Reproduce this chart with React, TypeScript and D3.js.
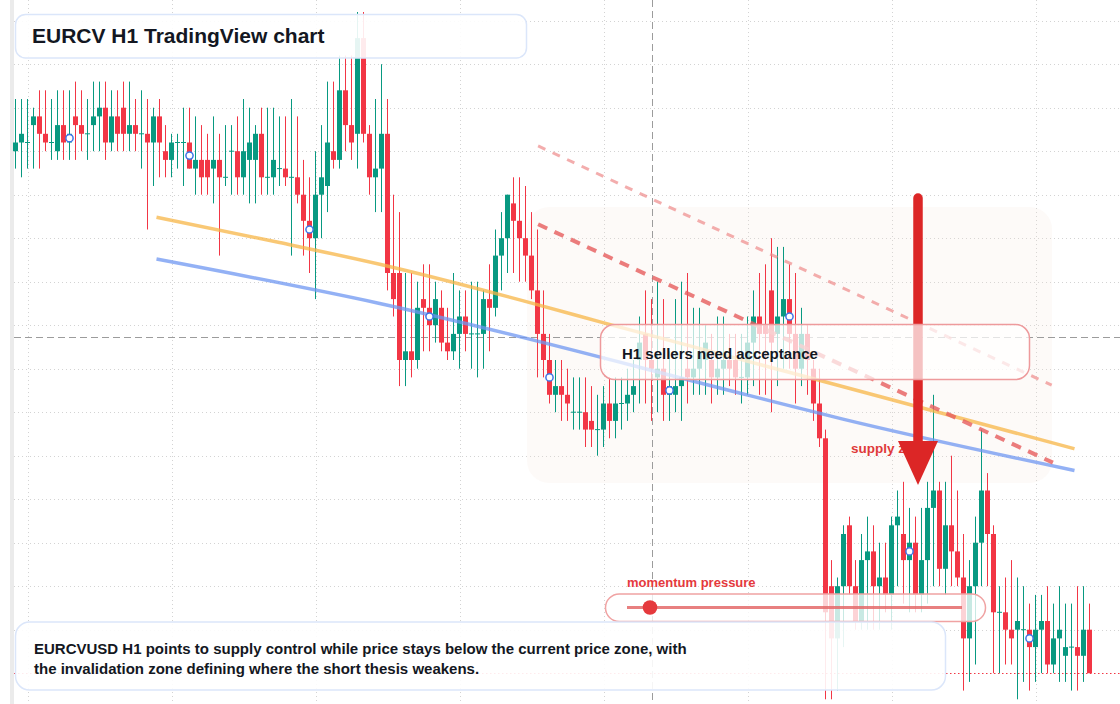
import React, { useEffect, useRef } from 'react';
import * as d3 from 'd3';

// EURCV H1 candles
const opens = [
    1.0885, 1.0886, 1.0886, 1.0888, 1.0889, 1.0887, 1.0886, 1.0885, 1.0888, 1.0886,
    1.0889, 1.0888, 1.0887, 1.0888, 1.0889, 1.089, 1.0886, 1.0889, 1.089, 1.0887,
    1.0888, 1.0887, 1.0887, 1.0886, 1.0889, 1.0885, 1.0884, 1.0886, 1.0886, 1.0886,
    1.0883, 1.0884, 1.0884, 1.0883, 1.0884, 1.0882, 1.0885, 1.0885, 1.0882, 1.0884,
    1.0884, 1.0887, 1.0882, 1.0882, 1.0883, 1.0883, 1.0882, 1.0882, 1.088, 1.0877,
    1.0875, 1.088, 1.0881, 1.0885, 1.0884, 1.0892, 1.0888, 1.0887, 1.0898, 1.0887,
    1.0882, 1.0883, 1.0887, 1.0871, 1.0871, 1.0861, 1.0862, 1.0861, 1.0868, 1.0867,
    1.0865, 1.0867, 1.0863, 1.0862, 1.0864, 1.0866, 1.0864, 1.0864, 1.0864, 1.0868,
    1.0867, 1.0873, 1.0875, 1.0879, 1.0877, 1.0875, 1.0873, 1.0869, 1.0864, 1.0861,
    1.0857, 1.0858, 1.0857, 1.0855, 1.0855, 1.0855, 1.0854, 1.0853, 1.0853, 1.0856,
    1.0854, 1.0856, 1.0856, 1.0857, 1.0861, 1.0864, 1.0861, 1.0859, 1.086, 1.0857,
    1.0857, 1.0858, 1.086, 1.0859, 1.086, 1.0861, 1.0861, 1.0859, 1.086, 1.0861,
    1.0861, 1.0859, 1.0859, 1.0863, 1.0866, 1.0865, 1.0869, 1.0864, 1.0866, 1.0868,
    1.0864, 1.086, 1.0864, 1.086, 1.0856, 1.0852, 1.0835, 1.0829, 1.0835, 1.0842,
    1.0835, 1.0831, 1.0838, 1.0839, 1.0835, 1.0836, 1.0834, 1.0842, 1.0841, 1.0838,
    1.084, 1.0834, 1.0838, 1.0844, 1.0846, 1.0837, 1.0842, 1.0839, 1.0836, 1.0829,
    1.0835, 1.084, 1.0846, 1.0841, 1.0832, 1.0832, 1.083, 1.083, 1.083, 1.083,
    1.0828, 1.083, 1.0831, 1.0826, 1.0829, 1.0827, 1.0828, 1.0828, 1.0827, 1.083,
];
const highs = [
    1.0891, 1.0891, 1.0891, 1.089, 1.0892, 1.0892, 1.0891, 1.0892, 1.0892, 1.0892,
    1.0893, 1.0892, 1.0891, 1.0893, 1.0893, 1.0893, 1.0892, 1.0892, 1.0893, 1.0893,
    1.0891, 1.0892, 1.0891, 1.089, 1.0891, 1.0888, 1.0887, 1.0887, 1.089, 1.089,
    1.0889, 1.0888, 1.0887, 1.0889, 1.0887, 1.0888, 1.0888, 1.0889, 1.0891, 1.089,
    1.0888, 1.089, 1.089, 1.089, 1.0889, 1.0889, 1.0891, 1.0889, 1.0884, 1.0882,
    1.0885, 1.0888, 1.0893, 1.0893, 1.0896, 1.0896, 1.0896, 1.0901, 1.0901, 1.0888,
    1.0891, 1.0895, 1.0891, 1.088, 1.0878, 1.0871, 1.0871, 1.087, 1.0872, 1.0872,
    1.087, 1.0869, 1.0867, 1.0871, 1.0869, 1.0869, 1.087, 1.087, 1.0869, 1.0872,
    1.0876, 1.0878, 1.088, 1.0882, 1.0882, 1.0881, 1.0878, 1.0876, 1.0869, 1.0864,
    1.0861, 1.0861, 1.086, 1.0859, 1.0859, 1.0859, 1.0858, 1.0857, 1.0858, 1.0859,
    1.0859, 1.0859, 1.086, 1.0861, 1.0866, 1.0869, 1.0868, 1.087, 1.0868, 1.0862,
    1.0868, 1.087, 1.0871, 1.0867, 1.0867, 1.0865, 1.0864, 1.0866, 1.0866, 1.0864,
    1.0864, 1.0864, 1.0866, 1.0869, 1.0871, 1.0872, 1.0875, 1.0874, 1.0874, 1.0872,
    1.0871, 1.0867, 1.0865, 1.0861, 1.086, 1.0853, 1.0838, 1.0836, 1.0842, 1.0843,
    1.0838, 1.0841, 1.0843, 1.0842, 1.084, 1.084, 1.0843, 1.0846, 1.0847, 1.0844,
    1.0843, 1.0844, 1.0847, 1.0857, 1.0847, 1.0847, 1.085, 1.0846, 1.0841, 1.0838,
    1.0843, 1.0853, 1.0848, 1.0842, 1.0835, 1.0836, 1.0838, 1.0836, 1.0835, 1.0833,
    1.0834, 1.0834, 1.0835, 1.0833, 1.0835, 1.0833, 1.0833, 1.0835, 1.0835, 1.0833,
];
const lows = [
    1.0883, 1.0882, 1.0883, 1.0883, 1.0883, 1.0885, 1.0884, 1.0884, 1.0884, 1.0884,
    1.0884, 1.0885, 1.0884, 1.0885, 1.0885, 1.0884, 1.0885, 1.0885, 1.0885, 1.0885,
    1.0885, 1.0883, 1.0876, 1.0881, 1.0882, 1.0882, 1.0882, 1.0883, 1.0881, 1.0883,
    1.088, 1.088, 1.088, 1.0879, 1.0873, 1.0881, 1.088, 1.088, 1.088, 1.0879,
    1.0879, 1.088, 1.088, 1.088, 1.0881, 1.0881, 1.0873, 1.0879, 1.0873, 1.0871,
    1.0868, 1.0875, 1.0878, 1.0883, 1.0883, 1.0885, 1.0884, 1.0883, 1.0886, 1.088,
    1.0878, 1.0878, 1.0869, 1.0866, 1.0858, 1.0858, 1.0859, 1.086, 1.0862, 1.0862,
    1.0863, 1.0862, 1.0861, 1.0861, 1.086, 1.0862, 1.086, 1.0859, 1.086, 1.0862,
    1.0866, 1.0869, 1.0871, 1.0871, 1.087, 1.087, 1.0868, 1.0859, 1.0859, 1.0856,
    1.0855, 1.0854, 1.0854, 1.0853, 1.0853, 1.0851, 1.0851, 1.085, 1.0851, 1.0852,
    1.0852, 1.0853, 1.0854, 1.0855, 1.0856, 1.0856, 1.0854, 1.0855, 1.0854, 1.0854,
    1.0855, 1.0854, 1.0856, 1.0857, 1.0857, 1.0857, 1.0856, 1.0857, 1.0857, 1.0858,
    1.0857, 1.0856, 1.0857, 1.0858, 1.0857, 1.0857, 1.0855, 1.0858, 1.086, 1.086,
    1.0856, 1.0858, 1.0857, 1.0854, 1.0851, 1.0822, 1.0822, 1.0823, 1.0828, 1.0834,
    1.083, 1.083, 1.083, 1.083, 1.083, 1.0832, 1.083, 1.0835, 1.0833, 1.0832,
    1.0832, 1.0832, 1.0833, 1.0835, 1.0835, 1.0834, 1.0835, 1.0835, 1.0823, 1.0824,
    1.0826, 1.0835, 1.0835, 1.0825, 1.0825, 1.0826, 1.0826, 1.0822, 1.0824, 1.0823,
    1.0824, 1.0825, 1.0825, 1.0825, 1.0824, 1.0824, 1.0823, 1.0823, 1.0824, 1.0825,
];
const closes = [
    1.0886, 1.0887, 1.0886, 1.0889, 1.0887, 1.0886, 1.0886, 1.0888, 1.0886, 1.0887,
    1.0888, 1.0887, 1.0887, 1.0889, 1.089, 1.0886, 1.0889, 1.0887, 1.0887, 1.0888,
    1.0887, 1.0887, 1.0886, 1.0889, 1.0886, 1.0884, 1.0886, 1.0886, 1.0886, 1.0883,
    1.0884, 1.0882, 1.0882, 1.0884, 1.0882, 1.0882, 1.0885, 1.0882, 1.0885, 1.0886,
    1.0887, 1.0882, 1.0882, 1.0884, 1.0883, 1.0882, 1.0882, 1.088, 1.0877, 1.0875,
    1.088, 1.0882, 1.0886, 1.0884, 1.0892, 1.0888, 1.0886, 1.0898, 1.0887, 1.0882,
    1.0883, 1.0887, 1.0871, 1.0868, 1.0861, 1.0862, 1.0861, 1.0867, 1.0867, 1.0865,
    1.0868, 1.0863, 1.0862, 1.0864, 1.0866, 1.0864, 1.0864, 1.0864, 1.0868, 1.0867,
    1.0873, 1.0875, 1.088, 1.0877, 1.0875, 1.0873, 1.0869, 1.0864, 1.0861, 1.0857,
    1.0858, 1.0857, 1.0856, 1.0855, 1.0855, 1.0853, 1.0853, 1.0853, 1.0856, 1.0854,
    1.0856, 1.0856, 1.0857, 1.0858, 1.0863, 1.0861, 1.086, 1.086, 1.0857, 1.0858,
    1.0858, 1.0859, 1.0859, 1.086, 1.0862, 1.0863, 1.0859, 1.086, 1.0861, 1.086,
    1.0859, 1.0859, 1.0863, 1.0866, 1.0864, 1.0864, 1.0863, 1.0866, 1.0868, 1.0864,
    1.086, 1.0864, 1.0861, 1.0856, 1.0852, 1.0832, 1.0829, 1.0835, 1.0841, 1.0835,
    1.0831, 1.0838, 1.0839, 1.0835, 1.0836, 1.0834, 1.0842, 1.0843, 1.0838, 1.084,
    1.0834, 1.0838, 1.0844, 1.0846, 1.0837, 1.0842, 1.0839, 1.0836, 1.0829, 1.0835,
    1.084, 1.0846, 1.0841, 1.0832, 1.0832, 1.083, 1.0829, 1.0831, 1.083, 1.0828,
    1.083, 1.0831, 1.0826, 1.0829, 1.083, 1.0828, 1.0828, 1.0827, 1.083, 1.0825,
];

// signal markers every 20 bars
const markerIdx = [9, 29, 49, 69, 89, 109, 129, 149, 169];

// grid
const gridIdx = [2, 26, 50, 74, 98, 122, 146, 170];
const gridPrices = [
    1.09, 1.0895, 1.089, 1.0885, 1.088, 1.0875, 1.087, 1.0865,
    1.086, 1.0855, 1.085, 1.0845, 1.084, 1.0835, 1.083, 1.0825,
];

// moving averages (bar index, price)
const maFast = [
    { i: 23.5, p: 1.08774 }, { i: 44, p: 1.08745 }, { i: 60.7, p: 1.0872 }, { i: 86.8, p: 1.08674 },
    { i: 97.9, p: 1.08653 }, { i: 132.7, p: 1.08589 }, { i: 176.5, p: 1.08508 },
];
const maSlow = [
    { i: 23.5, p: 1.08726 }, { i: 60.7, p: 1.08675 }, { i: 122.4, p: 1.08569 },
    { i: 137.9, p: 1.08542 }, { i: 176.5, p: 1.08483 },
];

// down trendlines
const trendOuter = [{ i: 87.1, p: 1.08856 }, { i: 172.7, p: 1.08581 }];
const trendInner = [{ i: 87.1, p: 1.08766 }, { i: 172.9, p: 1.08492 }];

const crosshair = { i: 106, p: 1.08636 };

const UP = '#089981';
const DOWN = '#f23645';
const W = 1120;
const H = 704;

const App: React.FC = () => {
    const ref = useRef<SVGSVGElement>(null);

    useEffect(() => {
        if (!ref.current) return;
        const svg = d3.select(ref.current);
        svg.selectAll('*').remove();

        const x = d3.scaleLinear().domain([0, opens.length - 1]).range([15.5, 1089.5]);
        const y = d3.scaleLinear().domain([1.09, 1.0825]).range([20.7, 673.2]);
        const crisp = (v: number) => Math.round(v) + 0.5;

        svg.append('rect').attr('width', W).attr('height', H).attr('fill', '#ffffff');
        svg.append('rect').attr('x', 10).attr('width', 4).attr('height', H).attr('fill', '#ebebeb');

        // dotted grid
        const grid = svg.append('g').attr('stroke', '#d3d3d3').attr('stroke-dasharray', '1 3');
        grid.selectAll('line.h')
            .data(gridPrices)
            .enter()
            .append('line')
            .attr('class', 'h')
            .attr('x1', 14)
            .attr('x2', W)
            .attr('y1', (d) => crisp(y(d)))
            .attr('y2', (d) => crisp(y(d)));
        grid.selectAll('line.v')
            .data(gridIdx)
            .enter()
            .append('line')
            .attr('class', 'v')
            .attr('x1', (d) => crisp(x(d)))
            .attr('x2', (d) => crisp(x(d)))
            .attr('y1', 0)
            .attr('y2', H);

        // supply zone shading
        svg.append('rect')
            .attr('x', 527).attr('y', 207).attr('width', 525).attr('height', 276).attr('rx', 22)
            .attr('fill', '#f6e4da').attr('opacity', 0.18);

        // crosshair
        const ch = svg.append('g').attr('stroke', '#9c9c9c').attr('stroke-dasharray', '7 4');
        ch.append('line').attr('x1', crisp(x(crosshair.i))).attr('x2', crisp(x(crosshair.i))).attr('y1', 0).attr('y2', H);
        ch.append('line').attr('x1', 14).attr('x2', W).attr('y1', crisp(y(crosshair.p))).attr('y2', crisp(y(crosshair.p)));

        // last price line
        const last = closes[closes.length - 1];
        svg.append('line')
            .attr('x1', 14).attr('x2', W)
            .attr('y1', crisp(y(last))).attr('y2', crisp(y(last)))
            .attr('stroke', DOWN).attr('stroke-dasharray', '1.5 2.5');

        // candles
        const idx = d3.range(opens.length);
        const col = (i: number) => (closes[i] >= opens[i] ? UP : DOWN);
        const c = svg.append('g').selectAll('g').data(idx).enter().append('g');
        c.append('line')
            .attr('x1', (i) => x(i)).attr('x2', (i) => x(i))
            .attr('y1', (i) => y(highs[i])).attr('y2', (i) => y(lows[i]))
            .attr('stroke', col).attr('stroke-width', 1);
        c.append('rect')
            .attr('x', (i) => x(i) - 2.5)
            .attr('width', 5)
            .attr('y', (i) => (opens[i] === closes[i] ? y(opens[i]) - 0.5 : y(Math.max(opens[i], closes[i]))))
            .attr('height', (i) => Math.max(1, Math.abs(y(opens[i]) - y(closes[i]))))
            .attr('fill', col);

        // moving averages
        const ma = d3.line<{ i: number; p: number }>()
            .x((d) => x(d.i))
            .y((d) => y(d.p))
            .curve(d3.curveMonotoneX);
        svg.append('path').datum(maFast).attr('d', ma).attr('fill', 'none')
            .attr('stroke', '#f7b547').attr('stroke-width', 3.5).attr('opacity', 0.75);
        svg.append('path').datum(maSlow).attr('d', ma).attr('fill', 'none')
            .attr('stroke', '#6f97f2').attr('stroke-width', 3.5).attr('opacity', 0.75);

        // trendlines
        const tl = d3.line<{ i: number; p: number }>().x((d) => x(d.i)).y((d) => y(d.p));
        svg.append('path').datum(trendOuter).attr('d', tl).attr('fill', 'none')
            .attr('stroke', '#ee8a8a').attr('stroke-width', 3).attr('stroke-dasharray', '8 8').attr('opacity', 0.7);
        svg.append('path').datum(trendInner).attr('d', tl).attr('fill', 'none')
            .attr('stroke', '#e65c5c').attr('stroke-width', 4).attr('stroke-dasharray', '10 8').attr('opacity', 0.8);

        // markers
        svg.append('g').selectAll('circle').data(markerIdx).enter().append('circle')
            .attr('cx', (i) => x(i))
            .attr('cy', (i) => y((opens[i] + closes[i]) / 2))
            .attr('r', 3.6)
            .attr('fill', '#ffffff')
            .attr('stroke', '#3d74e6')
            .attr('stroke-width', 1.5);

        const font = '"Liberation Sans", Arial, sans-serif';

        svg.append('text').attr('x', 851).attr('y', 453).text('supply zone')
            .attr('font-family', font).attr('font-weight', 700).attr('font-size', 13.5).attr('fill', '#df3a3a');

        // arrow
        svg.append('line').attr('x1', 918).attr('x2', 918).attr('y1', 198).attr('y2', 446)
            .attr('stroke', '#dc2626').attr('stroke-width', 9.5).attr('stroke-linecap', 'round');
        svg.append('path').attr('d', 'M898,441 L938,441 L918,485 Z').attr('fill', '#dc2626');

        // H1 box
        svg.append('rect')
            .attr('x', 600.5).attr('y', 324.5).attr('width', 429).attr('height', 55).attr('rx', 14)
            .attr('fill', '#ffffff').attr('fill-opacity', 0.72)
            .attr('stroke', '#ee9a9c').attr('stroke-width', 1.5);
        svg.append('text').attr('x', 622).attr('y', 359).text('H1 sellers need acceptance')
            .attr('font-family', font).attr('font-weight', 700).attr('font-size', 15).attr('fill', '#131722');

        // momentum pill
        svg.append('text').attr('x', 627).attr('y', 586.5).text('momentum pressure')
            .attr('font-family', font).attr('font-weight', 700).attr('font-size', 13).attr('fill', '#e5393d');
        svg.append('rect')
            .attr('x', 605.5).attr('y', 594).attr('width', 380).attr('height', 27.5).attr('rx', 13.75)
            .attr('fill', '#ffffff').attr('fill-opacity', 0.78)
            .attr('stroke', '#f0a3a3').attr('stroke-width', 1.5);
        svg.append('line').attr('x1', 627).attr('x2', 962).attr('y1', 607.5).attr('y2', 607.5)
            .attr('stroke', '#e46a6a').attr('stroke-width', 3).attr('opacity', 0.85);
        svg.append('circle').attr('cx', 650).attr('cy', 607.5).attr('r', 7.3).attr('fill', '#e5393d');

        // bottom note
        svg.append('rect')
            .attr('x', 15.5).attr('y', 622).attr('width', 930).attr('height', 68).attr('rx', 14)
            .attr('fill', '#ffffff').attr('fill-opacity', 0.9)
            .attr('stroke', '#dbe6fa').attr('stroke-width', 1.5);
        const note = svg.append('text').attr('font-family', font).attr('font-weight', 700)
            .attr('font-size', 15).attr('fill', '#131722');
        note.append('tspan').attr('x', 34).attr('y', 654)
            .text('EURCVUSD H1 points to supply control while price stays below the current price zone, with');
        note.append('tspan').attr('x', 34).attr('y', 673.5)
            .text('the invalidation zone defining where the short thesis weakens.');

        // title
        svg.append('rect')
            .attr('x', 15.5).attr('y', 14.5).attr('width', 511).attr('height', 43.5).attr('rx', 10)
            .attr('fill', '#ffffff').attr('fill-opacity', 0.9)
            .attr('stroke', '#dbe6fa').attr('stroke-width', 1.5);
        svg.append('text').attr('x', 32).attr('y', 43.3).text('EURCV H1 TradingView chart')
            .attr('font-family', font).attr('font-weight', 700).attr('font-size', 21).attr('fill', '#131722');
    }, []);

    return (
        <svg
            ref={ref}
            width={W}
            height={H}
            style={{ position: 'absolute', left: 0, top: 0, display: 'block' }}
        />
    );
};

export default App;
